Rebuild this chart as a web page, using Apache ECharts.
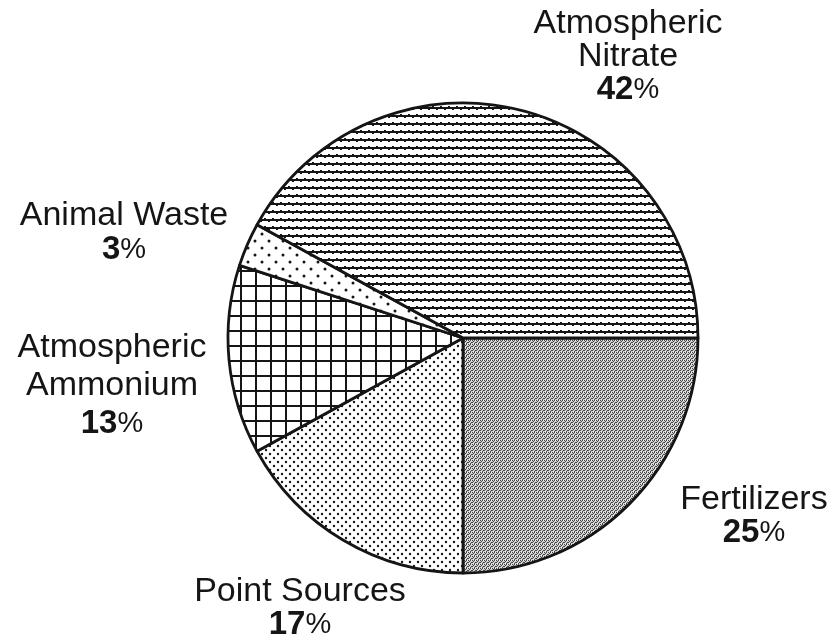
<!DOCTYPE html>
<html>
<head>
<meta charset="utf-8">
<script src="https://cdn.jsdelivr.net/npm/echarts@6/dist/echarts.min.js"></script>
<style>
  html, body { margin: 0; padding: 0; background: #fff; }
  #chart { width: 834px; height: 639px; }
</style>
</head>
<body>
<div id="chart"></div>
<script>
// slice order runs clockwise from 3 o'clock
const categories = ['Fertilizers', 'Point Sources', 'Atmospheric Ammonium', 'Animal Waste', 'Atmospheric Nitrate']
const shares = [25, 17, 13, 3, 42]
const labelNames = ['Fertilizers', 'Point Sources', 'Atmospheric\nAmmonium', 'Animal Waste', 'Atmospheric\nNitrate']

// where each label block sits (centre of text block, px)
const labelSpots = [[754, 516], [300, 608], [112, 386], [124, 233], [628, 57]]
const labelLines = [33, 33, 38, 34, 33]

const FONT = '"Liberation Sans", Arial, Helvetica, sans-serif'
const INK = '#151515'

/** small tile canvas used as a fill pattern */
function tile(w, h, draw) {
  const c = document.createElement('canvas')
  c.width = w
  c.height = h
  const ctx = c.getContext('2d')
  ctx.fillStyle = '#fff'
  ctx.fillRect(0, 0, w, h)
  ctx.fillStyle = INK
  draw(ctx, w, h)
  return { image: c, repeat: 'repeat' }
}

function dot(ctx, x, y, r) {
  ctx.beginPath()
  ctx.arc(x, y, r, 0, Math.PI * 2)
  ctx.fill()
}

const fills = [
  // fertilizers: fine grey halftone
  tile(4, 4, (ctx) => {
    ctx.fillStyle = '#d0d0d0'
    ctx.fillRect(0, 0, 4, 4)
    ctx.fillStyle = '#444'
    ctx.fillRect(0, 0, 1, 1); ctx.fillRect(2, 0, 1, 1)
    ctx.fillRect(1, 1, 1, 1); ctx.fillRect(3, 2, 1, 1)
    ctx.fillRect(0, 2, 1, 1); ctx.fillRect(2, 3, 1, 1)
    ctx.fillStyle = '#f4f4f4'
    ctx.fillRect(3, 0, 1, 1); ctx.fillRect(1, 3, 1, 1)
  }),
  // point sources: fine staggered dots
  tile(8, 8, (ctx) => {
    dot(ctx, 2, 2, 1.2)
    dot(ctx, 6, 6, 1.2)
  }),
  // atmospheric ammonium: square grid
  tile(15, 15, (ctx) => {
    ctx.fillRect(0, 0, 15, 2)
    ctx.fillRect(0, 0, 2, 15)
  }),
  // animal waste: sparse dots
  tile(14, 14, (ctx) => {
    dot(ctx, 3, 3, 1.5)
    dot(ctx, 10, 10, 1.5)
  }),
  // atmospheric nitrate: close wavy horizontal lines
  tile(8, 8, (ctx) => {
    ctx.fillRect(0, 3, 8, 2)
    ctx.fillRect(0, 2, 2, 1)
    ctx.fillRect(4, 5, 2, 1)
  }),
]

const pieData = categories.map((name, i) => ({
  name,
  value: shares[i],
  itemStyle: { color: fills[i] },
  label: { lineHeight: labelLines[i] },
}))

const chart = echarts.init(document.getElementById('chart'), null, { renderer: 'canvas' })

chart.setOption({
  backgroundColor: '#fff',
  animation: false,
  series: [{
    type: 'pie',
    center: [463, 338],
    radius: 235,
    startAngle: 0,
    clockwise: true,
    avoidLabelOverlap: false,
    silent: true,
    data: pieData,
    itemStyle: { borderColor: INK, borderWidth: 2.8 },
    emphasis: { disabled: true },
    labelLine: { show: false },
    label: {
      show: true,
      position: 'outside',
      fontFamily: FONT,
      fontSize: 34,
      color: INK,
      align: 'center',
      formatter: (p) => labelNames[p.dataIndex] + '\n{n|' + p.value + '}{p|%}',
      rich: {
        n: { fontFamily: FONT, fontSize: 33, fontWeight: 'bold', color: INK },
        p: { fontFamily: FONT, fontSize: 29, color: INK },
      },
    },
    labelLayout: (params) => ({
      x: labelSpots[params.dataIndex][0],
      y: labelSpots[params.dataIndex][1],
      align: 'center',
      verticalAlign: 'middle',
    }),
  }],
})
</script>
</body>
</html>
